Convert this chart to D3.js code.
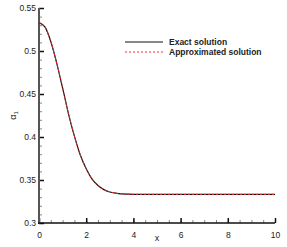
<!DOCTYPE html>
<html>
<head>
<meta charset="utf-8">
<script src="https://cdn.jsdelivr.net/npm/d3@7"></script>
<style>
	body { margin: 0; background: #fff; }
	text { font-family: "Liberation Sans", Arial, sans-serif; fill: #222; }
	.legend text { font-weight: bold; font-size: 8.5px; }
	.tick-label { font-size: 8.5px; }
</style>
</head>
<body>
<div id="chart"></div>
<script>
// values
let xs			= [0, 0.25, 0.5, 0.75, 1, 1.25, 1.5, 1.75, 2, 2.25, 2.5, 2.75, 3, 3.25, 3.5, 3.75, 4, 5, 6, 7, 8, 9, 10];
let exact		= [0.533, 0.528, 0.511, 0.486, 0.457, 0.427, 0.401, 0.379, 0.363, 0.351, 0.3436, 0.3388, 0.3361, 0.3347, 0.3339, 0.3336, 0.3334, 0.3333, 0.3333, 0.3333, 0.3333, 0.3333, 0.3333];
let approx		= [0.533, 0.528, 0.511, 0.486, 0.457, 0.427, 0.401, 0.379, 0.363, 0.351, 0.3436, 0.3388, 0.3361, 0.3347, 0.3339, 0.3336, 0.3334, 0.3333, 0.3333, 0.3333, 0.3333, 0.3333, 0.3333];
let xTicks		= [0, 2, 4, 6, 8, 10];
let yTicks		= [0.3, 0.35, 0.4, 0.45, 0.5, 0.55];
let legendNames	= ["Exact solution", "Approximated solution"];

let W = 287, H = 247;
let margin	= { top: 8, right: 12, bottom: 24, left: 39 };
let width	= W - margin.left - margin.right;
let height	= H - margin.top - margin.bottom;

let x = d3.scaleLinear().domain([0, 10]).range([0, width]);
let y = d3.scaleLinear().domain([0.3, 0.55]).range([height, 0]);

let svg = d3.select("#chart").append("svg")
	.attr("width", W)
	.attr("height", H)
	.append("g")
	.attr("transform", "translate(" + margin.left + "," + margin.top + ")");

// minor ticks
svg.append("g")
	.call(d3.axisBottom(x).tickValues(d3.range(0, 10.01, 0.5)).tickSize(-3).tickFormat(""))
	.attr("transform", "translate(0," + height + ")")
	.call(g => g.select(".domain").remove())
	.call(g => g.selectAll("line").attr("stroke", "#888"));
svg.append("g")
	.call(d3.axisLeft(y).tickValues(d3.range(0.3, 0.5501, 0.01)).tickSize(-3).tickFormat(""))
	.call(g => g.select(".domain").remove())
	.call(g => g.selectAll("line").attr("stroke", "#888"));

// major ticks
svg.append("g")
	.attr("transform", "translate(0," + height + ")")
	.call(d3.axisBottom(x).tickValues(xTicks).tickSize(-5).tickPadding(9).tickFormat(d3.format("d")))
	.call(g => g.select(".domain").remove())
	.call(g => g.selectAll("line").attr("stroke", "#111").attr("stroke-width", 1.5))
	.call(g => g.selectAll("text").attr("class", "tick-label").attr("fill", "#222").attr("font-size", null).attr("font-family", null));
svg.append("g")
	.call(d3.axisLeft(y).tickValues(yTicks).tickSize(-5).tickPadding(3).tickFormat(d => d3.format("")(+d.toFixed(2))))
	.call(g => g.select(".domain").remove())
	.call(g => g.selectAll("line").attr("stroke", "#111").attr("stroke-width", 1.5))
	.call(g => g.selectAll("text").attr("class", "tick-label").attr("fill", "#222").attr("font-size", null).attr("font-family", null));

// axis lines
svg.append("line")
	.attr("x1", 0).attr("x2", 0).attr("y1", 0).attr("y2", height + 1)
	.attr("stroke", "#555").attr("stroke-width", 2);
svg.append("line")
	.attr("x1", -1).attr("x2", width).attr("y1", height).attr("y2", height)
	.attr("stroke", "#111").attr("stroke-width", 1.5);

let line = d3.line()
	.x(d => x(d[0]))
	.y(d => y(d[1]))
	.curve(d3.curveMonotoneX);

svg.append("path")
	.datum(d3.zip(xs, exact))
	.attr("fill", "none")
	.attr("stroke", "#111")
	.attr("stroke-width", 1.2)
	.attr("d", line);

svg.append("path")
	.datum(d3.zip(xs, approx))
	.attr("fill", "none")
	.attr("stroke", "#ff2a2a")
	.attr("stroke-width", 1)
	.attr("stroke-dasharray", "2,2")
	.attr("d", line);

// axis titles
svg.append("text")
	.attr("x", width / 2)
	.attr("y", height + 18)
	.attr("text-anchor", "middle")
	.attr("font-size", "9px")
	.text("x");

let yt = svg.append("text")
	.attr("transform", "translate(" + (-23) + "," + (height / 2) + ") rotate(-90)")
	.attr("text-anchor", "middle")
	.attr("font-size", "9px");
yt.append("tspan").text("α");
yt.append("tspan").attr("font-size", "6px").attr("dy", "2").text("1");

// legend
let legend = svg.append("g").attr("class", "legend")
	.attr("transform", "translate(" + (125 - margin.left) + "," + (42 - margin.top) + ")");
legendNames.forEach((name, i) => {
	legend.append("line")
		.attr("x1", 0).attr("x2", 38)
		.attr("y1", i * 10).attr("y2", i * 10)
		.attr("stroke", i ? "#ff2a2a" : "#111")
		.attr("stroke-width", i ? 1 : 1.2)
		.attr("stroke-dasharray", i ? "2,2" : null);
	legend.append("text")
		.attr("x", 44)
		.attr("y", i * 10 + 3)
		.text(name);
});
</script>
</body>
</html>
